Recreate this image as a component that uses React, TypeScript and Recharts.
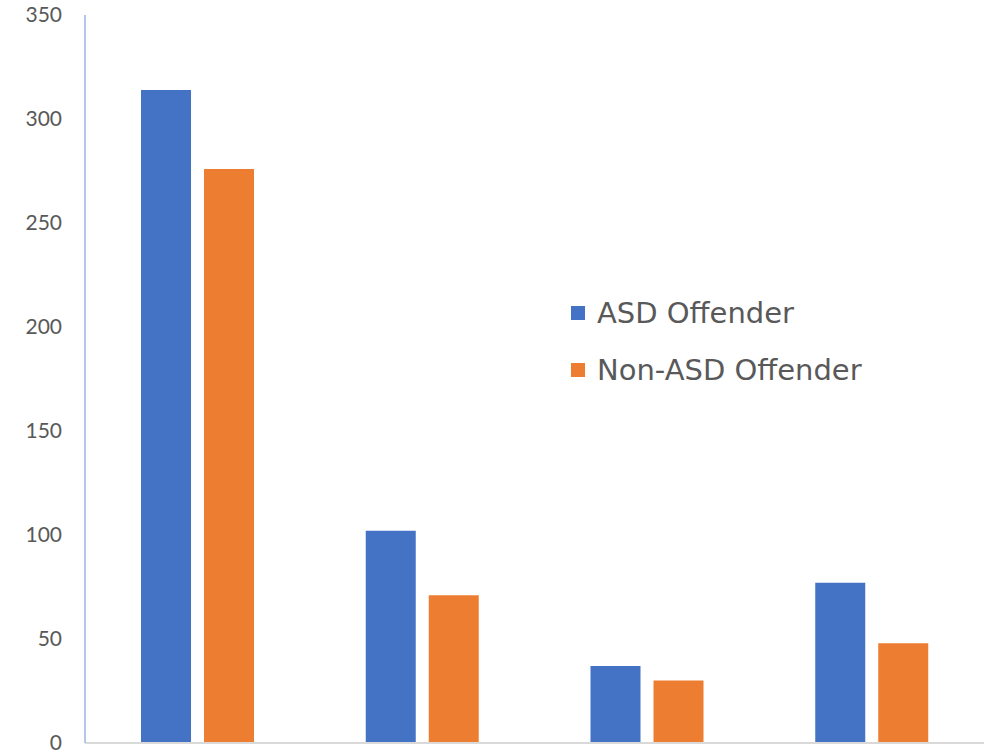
import React from 'react';
import { BarChart, Bar, XAxis, YAxis, Legend } from 'recharts';

const groups = ['Group 1', 'Group 2', 'Group 3', 'Group 4'];
const asdOffender = [314, 102, 37, 77];
const nonAsdOffender = [276, 71, 30, 48];
const yTicks = [0, 50, 100, 150, 200, 250, 300, 350];

const data = groups.map((g, i) => ({
  group: g,
  asd: asdOffender[i],
  nonAsd: nonAsdOffender[i],
}));

const legendItems = [
  { label: 'ASD Offender', color: '#4472c4' },
  { label: 'Non-ASD Offender', color: '#ed7d31' },
];

function ChartLegend() {
  return (
    <div style={{ fontFamily: '"DejaVu Sans", sans-serif', fontSize: 29, color: '#595959' }}>
      {legendItems.map((item) => (
        <div key={item.label} style={{ display: 'flex', alignItems: 'center', height: 57 }}>
          <span style={{ width: 14, height: 14, background: item.color, marginRight: 12, display: 'inline-block' }} />
          <span>{item.label}</span>
        </div>
      ))}
    </div>
  );
}

export default function App() {
  return (
    <div style={{ position: 'absolute', left: 0, top: 0, width: 997, height: 754, background: '#fff' }}>
      <BarChart
        width={997}
        height={754}
        data={data}
        margin={{ top: 15, right: 13, bottom: 9, left: 0 }}
        barSize={50}
        barGap={13}
      >
        <XAxis
          dataKey="group"
          tick={false}
          tickLine={false}
          height={2}
          axisLine={{ stroke: '#d9d9d9', strokeWidth: 2 }}
        />
        <YAxis
          width={85}
          domain={[0, 350]}
          ticks={yTicks}
          interval={0}
          tickLine={false}
          tickSize={0}
          tickMargin={23}
          axisLine={{ stroke: '#b4c7e7', strokeWidth: 2 }}
          tick={{ fill: '#595959', fontSize: 21, fontFamily: 'Lato, sans-serif' }}
        />
        <Legend
          layout="vertical"
          align="center"
          verticalAlign="middle"
          content={<ChartLegend />}
          wrapperStyle={{ left: 571, top: 284, width: 400 }}
        />
        <Bar dataKey="asd" name="ASD Offender" fill="#4472c4" isAnimationActive={false} />
        <Bar dataKey="nonAsd" name="Non-ASD Offender" fill="#ed7d31" isAnimationActive={false} />
      </BarChart>
    </div>
  );
}
